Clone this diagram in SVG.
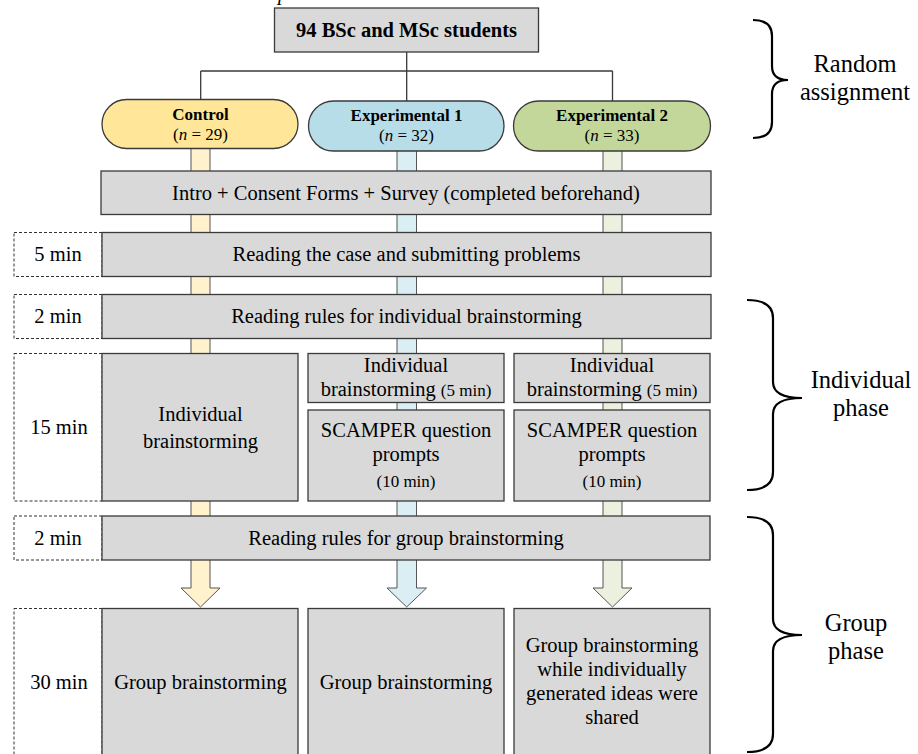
<svg xmlns="http://www.w3.org/2000/svg" width="918" height="754" viewBox="0 0 918 754">
<style>
text{font-family:"Liberation Serif","Times New Roman",serif;fill:#000;text-anchor:middle}
.t{font-size:20.5px}
.s{font-size:17px}
.side{font-size:24.5px}
.pill{font-size:17px}
.box{fill:#D9D9D9;stroke:#3a3a3a;stroke-width:1.3}
.dash{fill:#fff;stroke:#333;stroke-width:1;stroke-dasharray:3,2}
.conn{fill:none;stroke:#3a3a3a;stroke-width:1.3}
.lane{stroke:#555;stroke-width:1}
.brace{fill:none;stroke:#000;stroke-width:2.2}
</style>

<text x="283" y="-0.5" class="t" font-style="italic">p</text>

<g id="connectors">
  <path class="conn" d="M406.7,52 V71 M200.7,71 H612.5 M200.7,71 V99 M406.7,71 V101 M612.5,71 V101"/>
  <polygon class="lane" fill="#FFF2CC" points="191,148 191,588 181,588 200.5,607 220,588 210,588 210,148"/>
  <polygon class="lane" fill="#DAEEF3" points="397,150 397,588 387,588 406.7,607 426.5,588 416.5,588 416.5,150"/>
  <polygon class="lane" fill="#EBF1DE" points="603,150 603,588 593,588 612.5,607 632,588 622,588 622,150"/>
</g>

<g id="title">
  <rect class="box" x="274.5" y="8" width="264" height="44"/>
  <text x="406.5" y="37" class="t" font-weight="bold">94 BSc and MSc students</text>
</g>

<g id="control">
  <rect x="102" y="99.5" width="196" height="49" rx="24.5" fill="#FFE699" stroke="#3a3a3a" stroke-width="1.3"/>
  <text x="200.5" y="119.5" class="pill" font-weight="bold">Control</text>
  <text x="200.5" y="140" class="pill">(<tspan font-style="italic">n</tspan> = 29)</text>
</g>
<g id="experimental1">
  <rect x="308.5" y="101" width="195.5" height="50" rx="25" fill="#B7DEE8" stroke="#3a3a3a" stroke-width="1.3"/>
  <text x="406.5" y="121" class="pill" font-weight="bold">Experimental 1</text>
  <text x="406.5" y="141" class="pill">(<tspan font-style="italic">n</tspan> = 32)</text>
</g>
<g id="experimental2">
  <rect x="513.5" y="101" width="197" height="50" rx="25" fill="#C4D79B" stroke="#3a3a3a" stroke-width="1.3"/>
  <text x="612" y="121" class="pill" font-weight="bold">Experimental 2</text>
  <text x="612" y="141" class="pill">(<tspan font-style="italic">n</tspan> = 33)</text>
</g>

<g id="intro">
  <rect class="box" x="101" y="171" width="610" height="43.5"/>
  <text x="406" y="199.5" class="t">Intro + Consent Forms + Survey (completed beforehand)</text>
</g>

<g id="row-5min">
  <rect class="dash" x="14" y="232.5" width="88" height="44"/>
  <text x="58" y="261" class="t">5 min</text>
  <rect class="box" x="102" y="232.5" width="609" height="44"/>
  <text x="406.5" y="261" class="t">Reading the case and submitting problems</text>
</g>

<g id="row-2min-ind">
  <rect class="dash" x="14" y="294.5" width="88" height="44"/>
  <text x="58" y="323" class="t">2 min</text>
  <rect class="box" x="102" y="294.5" width="609" height="44"/>
  <text x="406.5" y="323" class="t">Reading rules for individual brainstorming</text>
</g>

<g id="row-15min">
  <rect class="dash" x="14" y="353.5" width="88" height="147.5"/>
  <text x="59" y="434" class="t">15 min</text>
</g>
<g id="control-individual">
  <rect class="box" x="102" y="353.5" width="196" height="147.5"/>
  <text x="200.5" y="421" class="t">Individual</text>
  <text x="200.5" y="448" class="t">brainstorming</text>
</g>
<g id="exp1-individual">
  <rect class="box" x="308" y="353.5" width="196" height="49"/>
  <text x="406" y="372" class="t">Individual</text>
  <text x="406" y="396" class="t">brainstorming <tspan class="s">(5 min)</tspan></text>
</g>
<g id="exp1-scamper">
  <rect class="box" x="308" y="410" width="196" height="91"/>
  <text x="406" y="437" class="t">SCAMPER question</text>
  <text x="406" y="461" class="t">prompts</text>
  <text x="406" y="487" class="s">(10 min)</text>
</g>
<g id="exp2-individual">
  <rect class="box" x="514" y="353.5" width="196" height="49"/>
  <text x="612" y="372" class="t">Individual</text>
  <text x="612" y="396" class="t">brainstorming <tspan class="s">(5 min)</tspan></text>
</g>
<g id="exp2-scamper">
  <rect class="box" x="514" y="410" width="196" height="91"/>
  <text x="612" y="437" class="t">SCAMPER question</text>
  <text x="612" y="461" class="t">prompts</text>
  <text x="612" y="487" class="s">(10 min)</text>
</g>

<g id="row-2min-group">
  <rect class="dash" x="14" y="516" width="88" height="44"/>
  <text x="58" y="544.5" class="t">2 min</text>
  <rect class="box" x="102" y="516" width="608" height="44"/>
  <text x="406" y="544.5" class="t">Reading rules for group brainstorming</text>
</g>

<g id="row-30min">
  <rect class="dash" x="14" y="608.5" width="88" height="160"/>
  <text x="59" y="689" class="t">30 min</text>
</g>
<g id="control-group">
  <rect class="box" x="102" y="608.5" width="196" height="160"/>
  <text x="200.5" y="689" class="t">Group brainstorming</text>
</g>
<g id="exp1-group">
  <rect class="box" x="308" y="608.5" width="196" height="160"/>
  <text x="406" y="689" class="t">Group brainstorming</text>
</g>
<g id="exp2-group">
  <rect class="box" x="514" y="608.5" width="196" height="160"/>
  <text x="612" y="652" class="t">Group brainstorming</text>
  <text x="612" y="676" class="t">while individually</text>
  <text x="612" y="700" class="t">generated ideas were</text>
  <text x="612" y="724" class="t">shared</text>
</g>

<g id="brace-random">
  <path class="brace" d="M753,20 Q772,20 772,36 V66 Q772,80 788,80 Q772,80 772,94 V122 Q772,138 753,138"/>
  <text x="855" y="72" class="side">Random</text>
  <text x="855" y="100" class="side">assignment</text>
</g>
<g id="brace-individual">
  <path class="brace" d="M747,300 Q773,300 773,318 V382 Q773,398 802,398 Q773,398 773,414 V472 Q773,490 747,490"/>
  <text x="861" y="388" class="side">Individual</text>
  <text x="861" y="416" class="side">phase</text>
</g>
<g id="brace-group">
  <path class="brace" d="M747,517 Q773,517 773,535 V619 Q773,635 802,635 Q773,635 773,651 V734 Q773,752 747,752"/>
  <text x="856" y="631" class="side">Group</text>
  <text x="856" y="659" class="side">phase</text>
</g>
</svg>
